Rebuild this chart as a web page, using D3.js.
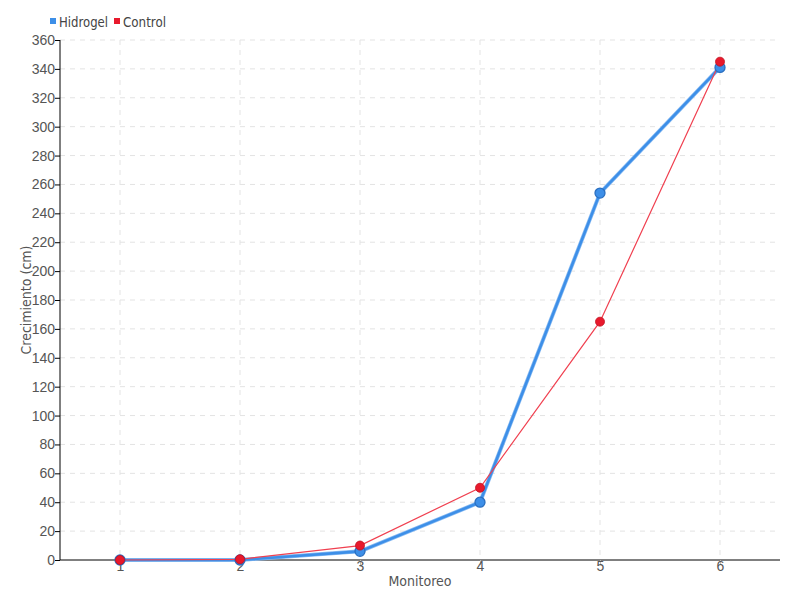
<!DOCTYPE html>
<html><head><meta charset="utf-8">
<script src="https://cdn.jsdelivr.net/npm/d3@7"></script>
<style>body{margin:0;background:#fff}svg{font-family:"Liberation Sans Narrow","DejaVu Sans Condensed","Roboto",sans-serif}</style>
</head><body><svg id="c" width="800" height="600"></svg>
<script>
const categories = [1, 2, 3, 4, 5, 6];
const hidrogel = [0, 0, 6, 40, 254, 341];
const control = [0, 0.5, 10, 50, 165, 345];
const yTicks = d3.range(0, 361, 20);
const seriesNames = ["Hidrogel", "Control"];
const colors = ["#3d8fe8", "#e8192c"];

const svg = d3.select("#c");
const x = d3.scaleLinear().domain([0.5, 6.5]).range([60, 780]);
const y = d3.scaleLinear().domain([0, 360]).range([560, 40]);

// grid
svg.append("g").selectAll("line").data(yTicks.slice(1)).join("line")
  .attr("x1", 60).attr("x2", 780).attr("y1", d => y(d)).attr("y2", d => y(d))
  .attr("stroke", "#e3e3e3").attr("stroke-dasharray", "5,5");
svg.append("g").selectAll("line").data(categories).join("line")
  .attr("x1", d => x(d)).attr("x2", d => x(d)).attr("y1", 40).attr("y2", 560)
  .attr("stroke", "#e3e3e3").attr("stroke-dasharray", "5,5");

// axes
const yAxis = svg.append("g").attr("transform", "translate(60,0)")
  .call(d3.axisLeft(y).tickValues(yTicks).tickSize(5).tickSizeOuter(0));
yAxis.select(".domain").attr("stroke", "#000").attr("d", "M0,40V560");
yAxis.selectAll(".tick line").attr("stroke", "#000");
yAxis.selectAll("text").attr("fill", "#555").style("font-size", "14px").attr("x", -5);

const xAxis = svg.append("g").attr("transform", "translate(0,560)")
  .call(d3.axisBottom(x).tickValues(categories).tickFormat(d3.format("d")).tickSize(5).tickSizeOuter(0));
xAxis.select(".domain").attr("stroke", "#000").attr("d", "M60,0H780");
xAxis.selectAll(".tick line").attr("stroke", "#bbb");
xAxis.selectAll("text").attr("fill", "#555").style("font-size", "14px").attr("y", 1);

svg.append("text").attr("x", 420).attr("y", 586).attr("text-anchor", "middle")
  .attr("fill", "#555").style("font-size", "14px").text("Monitoreo");
svg.append("text").attr("transform", "translate(31,300) rotate(-90)").attr("text-anchor", "middle")
  .attr("fill", "#555").style("font-size", "14px").text("Crecimiento (cm)");

const line = d3.line().x((d, i) => x(categories[i])).y(d => y(d));
// Hidrogel
svg.append("path").datum(hidrogel).attr("d", line).attr("fill", "none")
  .attr("stroke", "#8bbcf2").attr("stroke-width", 4).attr("stroke-linejoin", "round");
svg.append("path").datum(hidrogel).attr("d", line).attr("fill", "none")
  .attr("stroke", colors[0]).attr("stroke-width", 2.6).attr("stroke-linejoin", "round");
// Control
svg.append("path").datum(control).attr("d", line).attr("fill", "none")
  .attr("stroke", "#f04050").attr("stroke-width", 1.2);

svg.append("g").selectAll("circle").data(hidrogel).join("circle")
  .attr("cx", (d, i) => x(categories[i])).attr("cy", d => y(d)).attr("r", 5)
  .attr("fill", colors[0]).attr("stroke", "#2a6fc0").attr("stroke-width", 1.3);
svg.append("g").selectAll("circle").data(control).join("circle")
  .attr("cx", (d, i) => x(categories[i])).attr("cy", d => y(d)).attr("r", 4.5)
  .attr("fill", colors[1]).attr("stroke", "#c01020").attr("stroke-width", 0.8);

// legend
const lg = svg.append("g");
const legX = [50, 114];
seriesNames.forEach((n, i) => {
  lg.append("rect").attr("x", legX[i]).attr("y", 18).attr("width", 6).attr("height", 6).attr("fill", colors[i]);
  lg.append("text").attr("x", legX[i] + 9).attr("y", 27).attr("fill", "#444").style("font-size", "14px")
    .attr("textLength", i === 0 ? 49 : 43).attr("lengthAdjust", "spacingAndGlyphs").text(n);
});
</script></body></html>
